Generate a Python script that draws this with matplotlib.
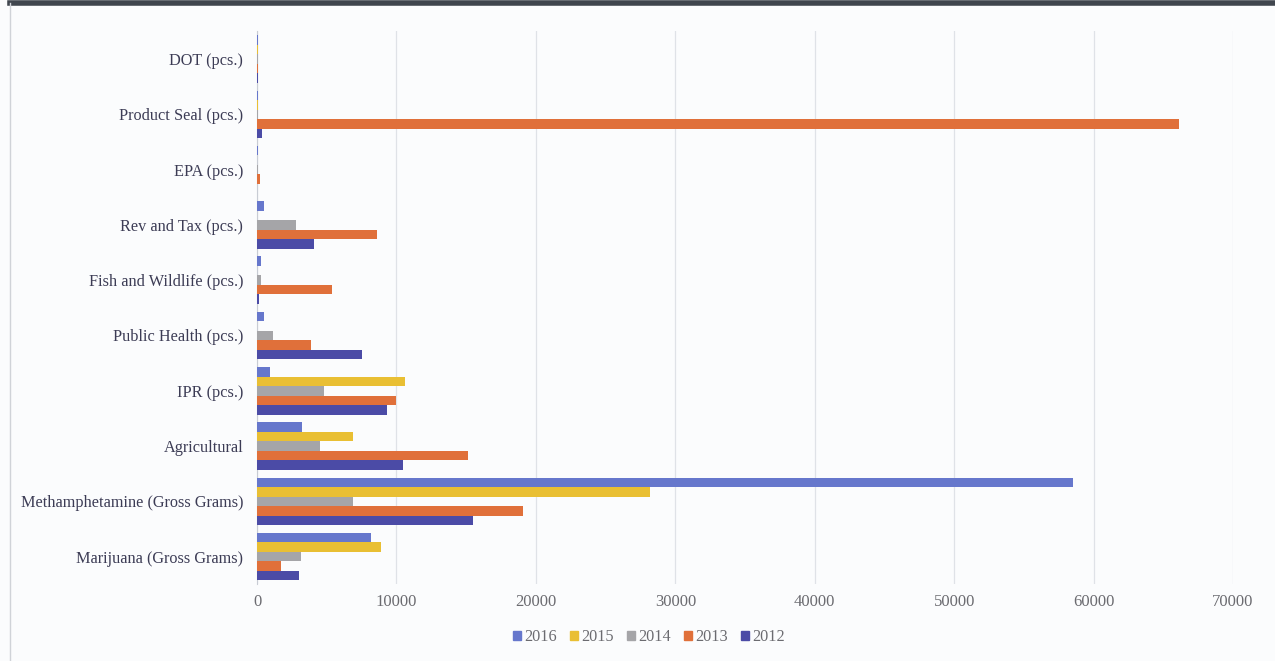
import numpy as np
import matplotlib.pyplot as plt
from matplotlib.lines import Line2D
from matplotlib.patches import Patch

# Categories listed bottom to top (matplotlib barh order)
categories = ["Marijuana (Gross Grams)", "Methamphetamine (Gross Grams)", "Agricultural",
              "IPR (pcs.)", "Public Health (pcs.)", "Fish and Wildlife (pcs.)",
              "Rev and Tax (pcs.)", "EPA (pcs.)", "Product Seal (pcs.)", "DOT (pcs.)"]

vals_2012 = [3000, 15500, 10500, 9300, 7500, 150, 4100, 0, 350, 60]
vals_2013 = [1750, 19100, 15150, 9950, 3850, 5400, 8600, 200, 66100, 60]
vals_2014 = [3150, 6900, 4550, 4800, 1150, 300, 2800, 100, 40, 60]
vals_2015 = [8900, 28200, 6900, 10600, 0, 0, 0, 0, 40, 60]
vals_2016 = [8200, 58500, 3250, 900, 500, 250, 500, 60, 60, 60]

years = ["2012", "2013", "2014", "2015", "2016"]
series = [vals_2012, vals_2013, vals_2014, vals_2015, vals_2016]
colors = ["#4b4ba6", "#e0703a", "#a5a5a8", "#e9bf33", "#6677cc"]

fig = plt.figure(figsize=(12.75, 6.61), dpi=100)
fig.patch.set_facecolor("#fbfcfd")
ax = fig.add_axes([0.2016, 0.116, 0.7655, 0.8366])
ax.set_facecolor("#fbfcfd")

n = len(series)
group = 0.86
h = group / n
y = np.arange(len(categories))
for i, (vals, c) in enumerate(zip(series, colors)):
    ax.barh(y - group / 2 + h * (i + 0.5), vals, height=h, color=c, zorder=3)

ax.set_xlim(0, 70000)
ax.set_ylim(-0.5, len(categories) - 0.5)
ax.set_xticks(np.arange(0, 70001, 10000))
ax.xaxis.grid(True, color="#dfe2e7", linewidth=0.9, zorder=0)
ax.set_yticks(y)
ax.set_yticklabels(categories)

for s in ["top", "right", "bottom"]:
    ax.spines[s].set_visible(False)
ax.spines["left"].set_color("#c8ccd4")
ax.tick_params(axis="both", length=0)
ax.tick_params(axis="x", pad=7, labelsize=12, labelcolor="#6b6b70")
ax.tick_params(axis="y", pad=10, labelsize=11.7, labelcolor="#3c3c55")
for lab in ax.get_xticklabels() + ax.get_yticklabels():
    lab.set_family("Liberation Serif")

handles = [Patch(color=colors[i], label=years[i]) for i in range(n - 1, -1, -1)]
leg = fig.legend(handles=handles, loc="center", bbox_to_anchor=(0.509, 0.036), ncol=5,
                 frameon=False, handlelength=0.5, handleheight=0.5, handletextpad=0.2,
                 columnspacing=0.8, prop={"family": "Liberation Serif", "size": 11.7})
for t in leg.get_texts():
    t.set_color("#6b6b70")

# scan frame: dark top edge and faint left edge
fig.add_artist(Line2D([0.008, 1], [0.996, 0.996], color="#40464e", linewidth=4))
fig.add_artist(Line2D([0.008, 0.008], [0, 0.996], color="#d0d3d8", linewidth=1))

fig.savefig("out.png", dpi=100, facecolor=fig.get_facecolor())
